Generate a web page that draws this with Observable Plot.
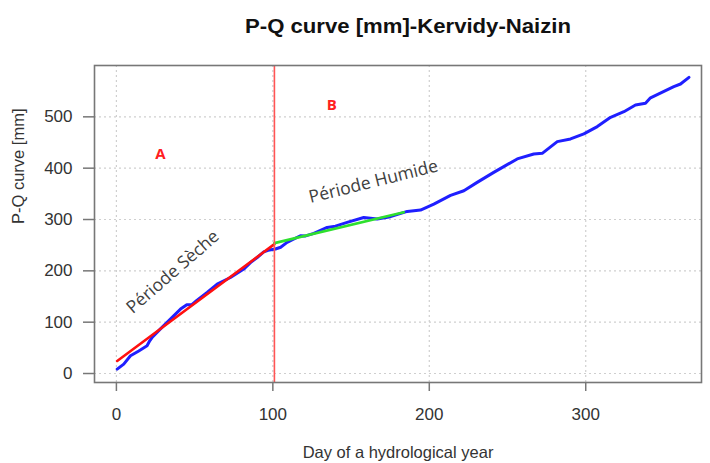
<!DOCTYPE html>
<html>
<head>
<meta charset="utf-8">
<script src="https://cdn.jsdelivr.net/npm/d3@7"></script>
<script src="https://cdn.jsdelivr.net/npm/@observablehq/plot@0.6"></script>
<style>
  body { margin: 0; background: #fff; }
  #chart svg { display: block; }
</style>
</head>
<body>
<div id="chart"></div>
<script>
// ---- data ----
const titleText = "P-Q curve [mm]-Kervidy-Naizin";
const xLabel = "Day of a hydrological year";
const yLabel = "P-Q curve [mm]";
const xTicks = [0, 100, 200, 300];
const yTicks = [0, 100, 200, 300, 400, 500];

// blue: observed cumulative P-Q curve
const blueDay = [0.5, 4.7, 9, 14.3, 19.6, 21.3, 22.8, 28, 34.5, 41, 45, 48.4, 51.6, 58, 64.4, 72.9, 81.4, 85.7, 90, 94.2, 97, 101.7, 105, 109.1, 117.6, 121, 126.2, 134.7, 140, 147.5, 158.1, 166.7, 175.2, 185.9, 194.4, 202.9, 213.6, 222.1, 230.6, 241.2, 247.6, 256.2, 266.8, 272.2, 281.8, 290.3, 298.8, 307.4, 315.9, 324.4, 331.8, 338.2, 341.4, 350, 356.3, 360.6, 366];
const blueValue = [8.6, 18.3, 34.5, 44, 54, 63.7, 70, 86.5, 106, 125.5, 134, 134.5, 143, 158, 174, 187, 203.5, 216, 226, 237, 240, 242.5, 246, 255.4, 268.4, 268, 273, 284.6, 287, 294.3, 304, 301, 305.5, 315.8, 318.5, 330, 347, 356, 372.3, 391.8, 403, 418, 427.7, 428.9, 451.7, 456.9, 466.7, 481, 499, 510, 523, 526.3, 537, 549.7, 558.9, 564, 577];

// red: dry-period fit
const redDay = [0.5, 101];
const redValue = [24.5, 252];
// green: wet-period fit
const greenDay = [101, 183.7];
const greenValue = [254, 314];

// split between periods
const splitDay = [101];

// annotations
const letterLabels = ["A", "B"];
const letterDay = [28.1, 137.7];
const letterValue = [426.7, 523.4];
const periodLabels = ["Période Sèche", "Période Humide"];
const periodDay = [36.1, 164.3];
const periodValue = [197.9, 373.7];
const periodAngle = [-41, -14];

// ---- tables built from arrays ----
const blue = blueDay.map((d, i) => ({day: d, v: blueValue[i]}));
const red = redDay.map((d, i) => ({day: d, v: redValue[i]}));
const green = greenDay.map((d, i) => ({day: d, v: greenValue[i]}));
const letters = letterLabels.map((t, i) => ({t, day: letterDay[i], v: letterValue[i]}));
const periods = periodLabels.map((t, i) => ({t, day: periodDay[i], v: periodValue[i], a: periodAngle[i]}));

const sans = "'Liberation Sans', Arial, sans-serif";

const plot = Plot.plot({
  width: 710,
  height: 463,
  marginLeft: 94,
  marginRight: 9,
  marginTop: 65,
  marginBottom: 81,
  style: {fontFamily: sans, background: "#fff", overflow: "visible"},
  x: {domain: [-14, 374]},
  y: {domain: [-17.5, 600]},
  marks: [
    Plot.gridX(xTicks, {stroke: "#cfcfcf", strokeOpacity: 1, strokeDasharray: "2,3", strokeWidth: 1.2}),
    Plot.gridY(yTicks, {stroke: "#cfcfcf", strokeOpacity: 1, strokeDasharray: "2,3", strokeWidth: 1.2}),
    Plot.axisX(xTicks, {tickSize: 9, tickPadding: 16, fontSize: 17, stroke: "#777", strokeWidth: 1.5, fill: "#333", label: null, tickFormat: d => String(d)}),
    Plot.axisY(yTicks, {tickSize: 11, tickPadding: 11, fontSize: 17, stroke: "#777", strokeWidth: 1.5, fill: "#333", label: null, tickFormat: d => String(d)}),
    Plot.line(blue, {x: "day", y: "v", stroke: "#1f1fff", strokeWidth: 3}),
    Plot.line(red, {x: "day", y: "v", stroke: "#ff1010", strokeWidth: 2.6}),
    Plot.line(green, {x: "day", y: "v", stroke: "#2ee02e", strokeWidth: 2.6}),
    Plot.ruleX(splitDay, {stroke: "#ff5555", strokeWidth: 1.6}),
    Plot.text(letters, {x: "day", y: "v", text: "t", fill: "#ff2020", fontSize: 15, fontWeight: "bold", fontFamily: "'Open Sans', sans-serif"}),
    Plot.text(periods, {x: "day", y: "v", text: "t", rotate: d => d.a, fill: "#404040", fontSize: 17.5, fontFamily: "'Open Sans', sans-serif"}),
    Plot.frame({stroke: "#777", strokeWidth: 1.6}),
    Plot.text([titleText], {frameAnchor: "top", dx: 10, dy: -33, lineAnchor: "bottom", fontSize: 19.5, fontWeight: "bold", fill: "#111"}),
    Plot.text([xLabel], {frameAnchor: "bottom", dy: 75, lineAnchor: "bottom", fontSize: 16.5, fill: "#333"}),
    Plot.text([yLabel], {frameAnchor: "left", dx: -76, rotate: -90, fontSize: 16.5, fill: "#333"})
  ]
});

d3.select(plot).selectAll("text")
  .filter(function() { return this.textContent === titleText; })
  .attr("textLength", 326)
  .attr("lengthAdjust", "spacingAndGlyphs");

document.getElementById("chart").appendChild(plot);
</script>
</body>
</html>
